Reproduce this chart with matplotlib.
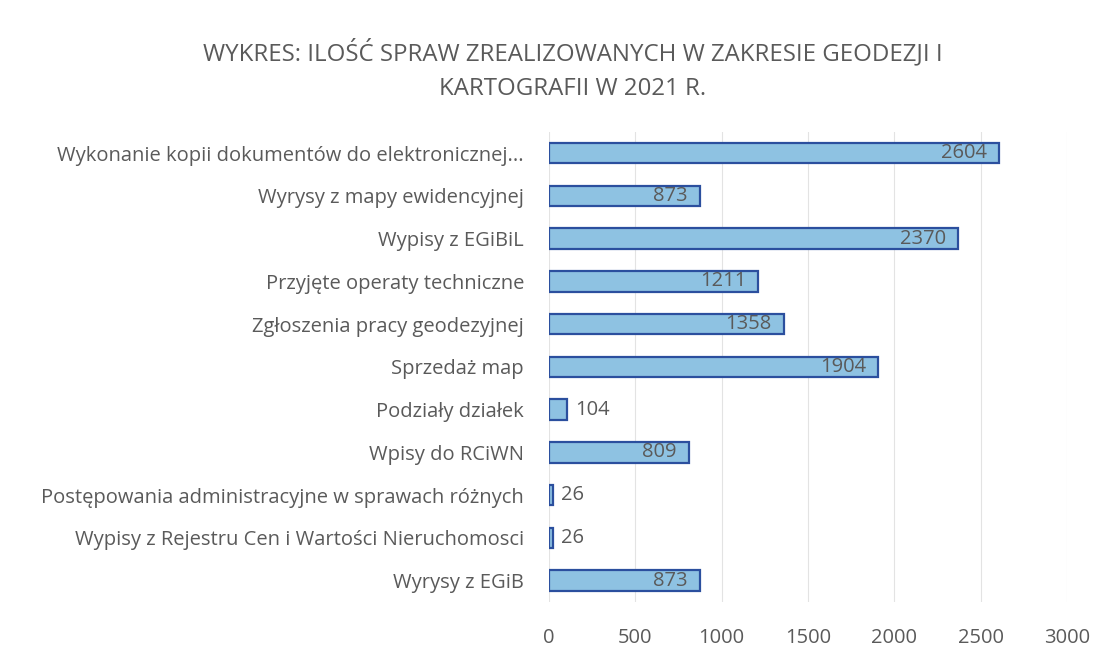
import matplotlib.pyplot as plt

categories = [
    "Wykonanie kopii dokumentów do elektronicznej...",
    "Wyrysy z mapy ewidencyjnej",
    "Wypisy z EGiBiL",
    "Przyjęte operaty techniczne",
    "Zgłoszenia pracy geodezyjnej",
    "Sprzedaż map",
    "Podziały działek",
    "Wpisy do RCiWN",
    "Postępowania administracyjne w sprawach różnych",
    "Wypisy z Rejestru Cen i Wartości Nieruchomosci",
    "Wyrysy z EGiB",
]
values = [2604, 873, 2370, 1211, 1358, 1904, 104, 809, 26, 26, 873]
xticks = [0, 500, 1000, 1500, 2000, 2500, 3000]

plt.rcParams['font.family'] = ['Open Sans', 'DejaVu Sans']
txt = '#5a5a5a'

fig = plt.figure(figsize=(11.12, 6.59), dpi=100)
ax = fig.add_axes([0.4937, 0.0865, 0.466, 0.7135])

y = list(range(len(categories)))
ax.barh(y, values, height=0.48, color='#8ec2e2', edgecolor='#2b4f9e', linewidth=1.6, zorder=3)

for yi, v in zip(y, values):
    if v > 500:
        ax.annotate(str(v), (v, yi), xytext=(-12, 0), textcoords='offset pixels',
                    ha='right', va='center', fontsize=14.5, color=txt, zorder=4)
    else:
        ax.annotate(str(v), (v, yi), xytext=(8, 0), textcoords='offset pixels',
                    ha='left', va='center', fontsize=14.5, color=txt, zorder=4)

ax.set_xlim(0, 3000)
ax.set_ylim(len(categories) - 0.5, -0.5)
ax.set_xticks(xticks)
ax.set_yticks(y)
ax.set_yticklabels(categories)
ax.tick_params(axis='both', length=0, labelsize=14.5, colors=txt)
ax.tick_params(axis='y', pad=18)
ax.tick_params(axis='x', pad=19)
ax.grid(axis='x', color='#e3e3e3', linewidth=0.8, zorder=0)
for s in ax.spines.values():
    s.set_visible(False)

fig.text(0.515, 0.894, "WYKRES: ILOŚĆ SPRAW ZREALIZOWANYCH W ZAKRESIE GEODEZJI I\nKARTOGRAFII W 2021 R.",
         ha='center', va='center', fontsize=17.3, color=txt, linespacing=1.55)

fig.savefig('out.png', dpi=100)
